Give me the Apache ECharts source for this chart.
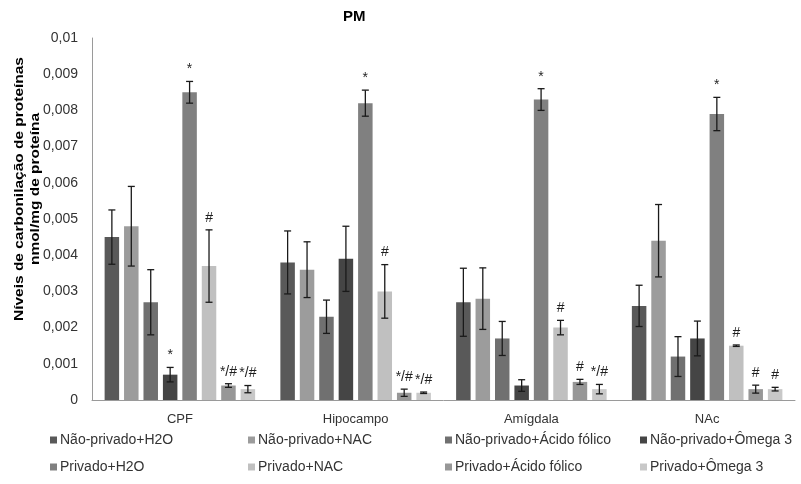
<!DOCTYPE html>
<html>
<head>
<meta charset="utf-8">
<script src="https://cdn.jsdelivr.net/npm/echarts@6/dist/echarts.min.js"></script>
<style>
html,body{margin:0;padding:0;background:#fff;}
#chart{width:801px;height:484px;}
</style>
</head>
<body>
<div id="chart"></div>
<script>
var categories = ['CPF', 'Hipocampo', 'Amígdala', 'NAc'];
var seriesNames = [
  'Não-privado+H2O', 'Não-privado+NAC', 'Não-privado+Ácido fólico', 'Não-privado+Ômega 3',
  'Privado+H2O', 'Privado+NAC', 'Privado+Ácido fólico', 'Privado+Ômega 3'
];
var npH2O   = [0.0045, 0.0038, 0.0027, 0.0026];
var npNAC   = [0.0048, 0.0036, 0.0028, 0.0044];
var npAF    = [0.0027, 0.0023, 0.0017, 0.0012];
var npOm3   = [0.0007, 0.0039, 0.0004, 0.0017];
var pH2O    = [0.0085, 0.0082, 0.0083, 0.0079];
var pNAC    = [0.0037, 0.0030, 0.0020, 0.0015];
var pAF     = [0.0004, 0.0002, 0.0005, 0.0003];
var pOm3    = [0.0003, 0.0002, 0.0003, 0.0003];

var errNpH2O = [0.00075, 0.00087, 0.00094, 0.00057];
var errNpNAC = [0.0011, 0.00077, 0.00085, 0.0010];
var errNpAF  = [0.0009, 0.00046, 0.00047, 0.00055];
var errNpOm3 = [0.0002, 0.0009, 0.00016, 0.00048];
var errPH2O  = [0.0003, 0.00036, 0.0003, 0.00046];
var errPNAC  = [0.0010, 0.00074, 0.0002, 0.00002];
var errPAF   = [0.00005, 0.0001, 0.00007, 0.00011];
var errPOm3  = [0.0001, 0.00002, 0.00013, 0.00005];

var annNpH2O = ['', '', '', ''];
var annNpNAC = ['', '', '', ''];
var annNpAF  = ['', '', '', ''];
var annNpOm3 = ['*', '', '', ''];
var annPH2O  = ['*', '*', '*', '*'];
var annPNAC  = ['#', '#', '#', '#'];
var annPAF   = ['*/#', '*/#', '#', '#'];
var annPOm3  = ['*/#', '*/#', '*/#', '#'];

var yTickLabels = ['0', '0,001', '0,002', '0,003', '0,004', '0,005', '0,006', '0,007', '0,008', '0,009', '0,01'];
var yTitle = 'Níveis de carbonilação de proteínas\nnmol/mg de proteína';
var chartTitle = 'PM';

var means = [npH2O, npNAC, npAF, npOm3, pH2O, pNAC, pAF, pOm3];
var errs = [errNpH2O, errNpNAC, errNpAF, errNpOm3, errPH2O, errPNAC, errPAF, errPOm3];
var anns = [annNpH2O, annNpNAC, annNpAF, annNpOm3, annPH2O, annPNAC, annPAF, annPOm3];
var colors = ['#595959', '#9c9c9c', '#707070', '#454545', '#808080', '#c0c0c0', '#979797', '#c8c8c8'];

var BW = 14.5, GAP = 0.34, STEP = BW * (1 + GAP);

var series = [];
means.forEach(function (m, si) {
  series.push({
    type: 'bar', name: seriesNames[si], data: m,
    barWidth: BW, barGap: (GAP * 100) + '%',
    itemStyle: { color: colors[si] },
    silent: true
  });
});
means.forEach(function (m, si) {
  series.push({
    type: 'custom',
    silent: true,
    z: 10,
    data: m.map(function (v, ci) { return [ci, v, errs[si][ci]]; }),
    renderItem: function (params, api) {
      var ci = api.value(0), v = api.value(1), e = api.value(2);
      var cx = api.coord([ci, 0])[0] + (si - 3.5) * STEP;
      var yt = api.coord([ci, v + e])[1];
      var yb = api.coord([ci, Math.max(0, v - e)])[1];
      var st = { stroke: '#1a1a1a', lineWidth: 1.3 };
      var children = [
        { type: 'line', shape: { x1: cx, y1: yt, x2: cx, y2: yb }, style: st },
        { type: 'line', shape: { x1: cx - 3.5, y1: yt, x2: cx + 3.5, y2: yt }, style: st },
        { type: 'line', shape: { x1: cx - 3.5, y1: yb, x2: cx + 3.5, y2: yb }, style: st }
      ];
      var a = anns[si][params.dataIndex];
      if (a) {
        children.push({
          type: 'text',
          style: {
            text: a, x: cx, y: yt - 5, align: 'center', verticalAlign: 'bottom',
            fill: '#1f1f1f', font: '14px "Liberation Sans", Arial, sans-serif'
          }
        });
      }
      return { type: 'group', children: children };
    }
  });
});

var legendCols = [50, 248, 445, 640];
var legendRows = [433, 460];
var legends = seriesNames.map(function (n, i) {
  return {
    data: [n],
    left: legendCols[i % 4],
    top: legendRows[Math.floor(i / 4)],
    padding: 0,
    icon: 'rect',
    itemWidth: 7, itemHeight: 7,
    selectedMode: false,
    textStyle: { fontFamily: '"Liberation Sans", Arial, sans-serif', fontSize: 14, color: '#333', padding: [0, 0, 0, -2] }
  };
});

var chart = echarts.init(document.getElementById('chart'), null, { renderer: 'canvas' });
chart.setOption({
  animation: false,
  color: colors,
  title: {
    text: chartTitle, left: 343, top: 9, padding: 0,
    textStyle: { fontFamily: '"Liberation Sans", Arial, sans-serif', fontSize: 15, fontWeight: 'bold', color: '#000' }
  },
  legend: legends,
  grid: { left: 92, right: 6, top: 38, bottom: 84, containLabel: false },
  xAxis: {
    type: 'category', data: categories,
    axisLine: { lineStyle: { color: '#9a9a9a', width: 1 } },
    axisTick: { show: false },
    axisLabel: { fontFamily: '"Liberation Sans", Arial, sans-serif', fontSize: 13, color: '#333', margin: 13 }
  },
  yAxis: {
    type: 'value', min: 0, max: 0.01, interval: 0.001,
    splitLine: { show: false },
    axisLine: { show: true, lineStyle: { color: '#9a9a9a', width: 1 } },
    axisTick: { show: false },
    axisLabel: {
      fontFamily: '"Liberation Sans", Arial, sans-serif', fontSize: 14, color: '#333', margin: 14,
      formatter: function (v) { return yTickLabels[Math.round(v / 0.001)]; }
    }
  },
  graphic: [{
    type: 'text',
    x: 27, y: 189, rotation: Math.PI / 2, scaleX: 1.19, scaleY: 1,
    style: {
      text: yTitle, align: 'center', verticalAlign: 'middle',
      font: 'bold 13px "Liberation Sans", Arial, sans-serif', lineHeight: 16, fill: '#000'
    }
  }],
  series: series
});
</script>
</body>
</html>
